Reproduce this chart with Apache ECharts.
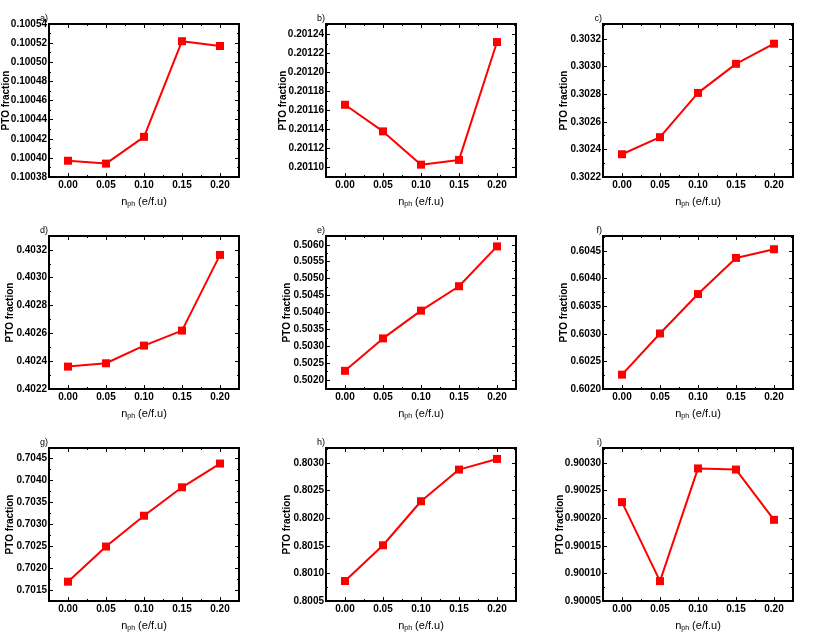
<!DOCTYPE html>
<html>
<head>
<meta charset="utf-8">
<script src="https://cdn.jsdelivr.net/npm/echarts@6.0.0/dist/echarts.min.js"></script>
<style>
  html, body { margin: 0; padding: 0; background: #fff; }
  #chart { width: 830px; height: 636px; }
</style>
</head>
<body>
<div id="chart"></div>
<script>
// x (n_ph, e/f.u) shared by all panels
const xValues = [0.00, 0.05, 0.10, 0.15, 0.20]
const xTicks = [0.00, 0.05, 0.10, 0.15, 0.20]
const xRange = [-0.025, 0.225]

const panelLabels = ['a)', 'b)', 'c)', 'd)', 'e)', 'f)', 'g)', 'h)', 'i)']

// PTO fraction per panel
const valuesA = [0.100397, 0.100394, 0.100422, 0.100522, 0.100517]
const valuesB = [0.201166, 0.201138, 0.201103, 0.201108, 0.201232]
const valuesC = [0.302365, 0.302489, 0.302810, 0.303021, 0.303167]
const valuesD = [0.402361, 0.402385, 0.402512, 0.402620, 0.403164]
const valuesE = [0.502277, 0.503235, 0.504055, 0.504776, 0.505953]
const valuesF = [0.602260, 0.603005, 0.603719, 0.604373, 0.604530]
const valuesG = [0.701691, 0.702492, 0.703195, 0.703844, 0.704385]
const valuesH = [0.800862, 0.801509, 0.802306, 0.802879, 0.803072]
const valuesI = [0.900229, 0.900086, 0.900290, 0.900288, 0.900197]

// y tick labels per panel
const yTicksA = [0.10038, 0.10040, 0.10042, 0.10044, 0.10046, 0.10048, 0.10050, 0.10052, 0.10054]
const yTicksB = [0.20110, 0.20112, 0.20114, 0.20116, 0.20118, 0.20120, 0.20122, 0.20124]
const yTicksC = [0.3022, 0.3024, 0.3026, 0.3028, 0.3030, 0.3032]
const yTicksD = [0.4022, 0.4024, 0.4026, 0.4028, 0.4030, 0.4032]
const yTicksE = [0.5020, 0.5025, 0.5030, 0.5035, 0.5040, 0.5045, 0.5050, 0.5055, 0.5060]
const yTicksF = [0.6020, 0.6025, 0.6030, 0.6035, 0.6040, 0.6045]
const yTicksG = [0.7015, 0.7020, 0.7025, 0.7030, 0.7035, 0.7040, 0.7045]
const yTicksH = [0.8005, 0.8010, 0.8015, 0.8020, 0.8025, 0.8030]
const yTicksI = [0.90005, 0.90010, 0.90015, 0.90020, 0.90025, 0.90030]

// y axis extents per panel
const yRangeA = [0.10038, 0.10054]
const yRangeB = [0.20109, 0.201251]
const yRangeC = [0.3022, 0.30331]
const yRangeD = [0.4022, 0.40330]
const yRangeE = [0.50174, 0.50626]
const yRangeF = [0.6020, 0.60477]
const yRangeG = [0.70125, 0.70474]
const yRangeH = [0.8005, 0.80327]
const yRangeI = [0.90005, 0.900327]

const yDigits = [5, 5, 4, 4, 4, 4, 4, 4, 5]

const panels = [
  [valuesA, yTicksA, yRangeA], [valuesB, yTicksB, yRangeB], [valuesC, yTicksC, yRangeC],
  [valuesD, yTicksD, yRangeD], [valuesE, yTicksE, yRangeE], [valuesF, yTicksF, yRangeF],
  [valuesG, yTicksG, yRangeG], [valuesH, yTicksH, yRangeH], [valuesI, yTicksI, yRangeI]
]

// layout
const colLeft = [49, 326, 603]
const rowTop = [24, 236, 448]
const gridW = 190
const gridH = 153
const font = "'Liberation Sans', Arial, sans-serif"

// half-way ticks between the labelled ones
function minorOf(ticks, range) {
  const step = ticks[1] - ticks[0]
  const out = []
  if (ticks[0] - step / 2 >= range[0]) out.push(ticks[0] - step / 2)
  ticks.forEach(t => {
    if (t + step / 2 <= range[1]) out.push(t + step / 2)
  })
  return out
}

function tickAxis(gridIndex, position, range, values, len) {
  return {
    type: 'value',
    gridIndex,
    position,
    min: range[0],
    max: range[1],
    axisLine: { show: false, onZero: false },
    splitLine: { show: false },
    axisLabel: { show: false },
    axisTick: {
      show: true, inside: true, length: len, customValues: values,
      lineStyle: { color: '#000', width: 1 }
    }
  }
}

const grid = [], xAxis = [], yAxis = [], series = [], graphic = []

panels.forEach(([values, yTicks, yRange], k) => {
  const left = colLeft[k % 3]
  const top = rowTop[Math.floor(k / 3)]
  const digits = yDigits[k]
  grid.push({
    left, top, width: gridW, height: gridH,
    show: true, borderColor: '#000', borderWidth: 2,
    backgroundColor: 'transparent', outerBoundsMode: 'none'
  })

  const xi = xAxis.length
  const xMain = tickAxis(k, 'bottom', xRange, xTicks, 4)
  xMain.axisLabel = {
    show: true, customValues: xTicks, margin: 3,
    formatter: v => v.toFixed(2),
    color: '#000', fontFamily: font, fontSize: 10, fontWeight: 'bold'
  }
  xMain.name = '{n|n}{s|ph}{n| (e/f.u)}'
  xMain.nameLocation = 'middle'
  xMain.nameGap = 18
  xMain.nameMoveOverlap = false
  xMain.nameTextStyle = {
    color: '#000', fontFamily: font,
    rich: {
      n: { fontSize: 11, fontFamily: font, color: '#000' },
      s: { fontSize: 7, fontFamily: font, color: '#000', padding: [6, 0, 0, 0] }
    }
  }
  xAxis.push(xMain)
  xAxis.push(tickAxis(k, 'bottom', xRange, minorOf(xTicks, xRange), 2))
  xAxis.push(tickAxis(k, 'top', xRange, xTicks, 4))
  xAxis.push(tickAxis(k, 'top', xRange, minorOf(xTicks, xRange), 2))

  const yi = yAxis.length
  const yMain = tickAxis(k, 'left', yRange, yTicks, 4)
  yMain.axisLabel = {
    show: true, customValues: yTicks, margin: 2,
    formatter: v => v.toFixed(digits),
    color: '#000', fontFamily: font, fontSize: 10, fontWeight: 'bold'
  }
  yMain.name = 'PTO fraction'
  yMain.nameLocation = 'middle'
  yMain.nameGap = digits === 5 ? 38 : 34
  yMain.nameMoveOverlap = false
  yMain.nameTextStyle = { color: '#000', fontFamily: font, fontSize: 10, fontWeight: 'bold' }
  yAxis.push(yMain)
  yAxis.push(tickAxis(k, 'left', yRange, minorOf(yTicks, yRange), 2))
  yAxis.push(tickAxis(k, 'right', yRange, yTicks, 4))
  yAxis.push(tickAxis(k, 'right', yRange, minorOf(yTicks, yRange), 2))

  series.push({
    type: 'line',
    xAxisIndex: xi,
    yAxisIndex: yi,
    data: xValues.map((x, i) => [x, values[i]]),
    symbol: 'rect',
    symbolSize: 8,
    lineStyle: { color: '#ff0000', width: 2 },
    itemStyle: { color: '#ff0000' },
    z: 3
  })

  graphic.push({
    type: 'text',
    x: left - 1,
    y: top - 1,
    style: {
      text: panelLabels[k],
      align: 'right', verticalAlign: 'bottom',
      textAlign: 'right', textVerticalAlign: 'bottom',
      font: '9px ' + font,
      fill: '#000'
    }
  })
})

const myChart = echarts.init(document.getElementById('chart'))
myChart.setOption({
  animation: false,
  backgroundColor: '#fff',
  grid,
  xAxis,
  yAxis,
  series,
  graphic
})
</script>
</body>
</html>
